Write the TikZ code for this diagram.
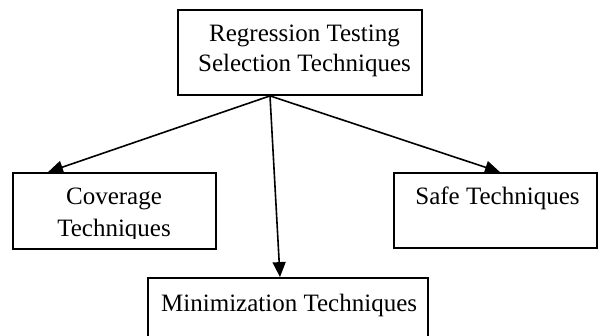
\documentclass[tikz,border=0pt]{standalone}
\usepackage{fontspec}
\setmainfont{Liberation Serif}
\usetikzlibrary{arrows.meta}
\begin{document}
\begin{tikzpicture}[x=1pt,y=-1pt,
  box/.style={draw, line width=1.8pt, inner sep=0pt},
  lbl/.style={font=\fontsize{25}{30}\selectfont, inner sep=0pt, anchor=base},
  arr/.style={line width=1.6pt, -{Triangle[length=15pt,width=13pt]}}]
\useasboundingbox (0,0) rectangle (600,336);
\clip (0,0) rectangle (600,336);
\node[box, minimum width=244pt, minimum height=85pt] (top) at (300,52.5) {};
\node[box, minimum width=203pt, minimum height=76pt] (cov) at (114.5,211) {};
\node[box, minimum width=203pt, minimum height=75pt] (safe) at (495.5,210.5) {};
\node[box, minimum width=280pt, minimum height=72pt] (mini) at (288,314) {};
\node[lbl] (t1) at (304.5,42) {Regression Testing};
\node[lbl] (t2) at (304.5,72) {Selection Techniques};
\node[lbl] (c1) at (114,205) {Coverage};
\begin{scope}
  \clip (13,173) rectangle (216,239);
  \node[lbl] (c2) at (114,237) {Techniques};
\end{scope}
\node[lbl] (s1) at (497.5,205) {Safe Techniques};
\node[lbl, anchor=base west] (m1) at (161,312) {Minimization Techniques};
\coordinate (hub) at ([xshift=-30pt]top.south);
\draw[arr] (hub) -- ([xshift=-66.5pt]cov.north);
\draw[arr] (hub) -- ([xshift=4.5pt]safe.north);
\draw[arr] (hub) -- ([xshift=-8pt]mini.north);
\end{tikzpicture}
\end{document}
